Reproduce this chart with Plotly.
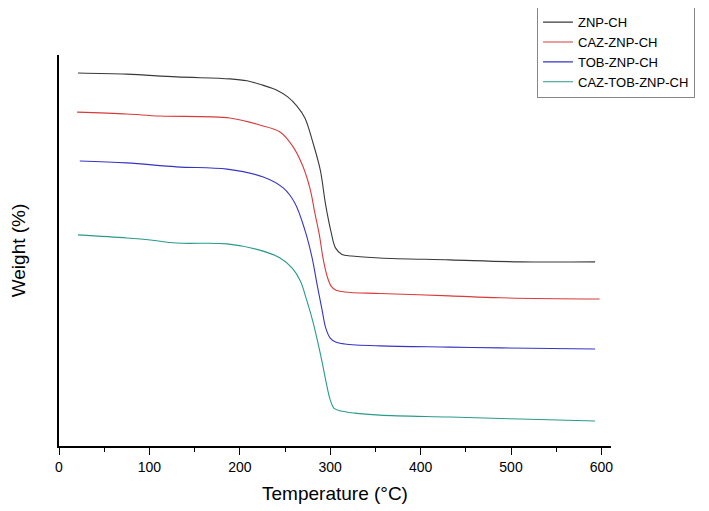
import plotly.graph_objects as go

# Temperature (°C) and weight readings per sample
znp_t = [21, 75, 130, 189, 208, 225, 241, 253, 263, 272, 281, 289, 295, 301, 306, 313, 324, 355, 432, 510, 593]
znp_w = [95.4, 95.1, 94.4, 93.9, 93.4, 92.3, 91.0, 89.3, 87.0, 83.9, 77.5, 70.6, 61.6, 54.7, 50.6, 49.0, 48.6, 48.1, 47.6, 47.1, 47.1]

caz_t = [20, 75, 112, 189, 222, 244.5, 259, 270, 278, 283, 288, 292, 296.5, 301, 306, 316, 355, 432, 488, 598]
caz_w = [85.4, 84.9, 84.4, 83.9, 82.1, 80.3, 76.5, 71.4, 65.5, 59.6, 54.0, 48.1, 43.5, 40.9, 39.9, 39.4, 39.0, 38.4, 37.9, 37.6]

tob_t = [23, 75, 130, 186, 226, 248, 261, 272, 280, 285, 291, 295, 300, 306, 316, 355, 432, 488, 593]
tob_w = [72.9, 72.4, 71.4, 70.8, 68.8, 66.0, 62.1, 55.2, 48.1, 41.9, 34.8, 30.2, 27.6, 26.6, 26.1, 25.6, 25.3, 25.1, 24.8]

caztob_t = [21, 75, 101, 130, 186, 222, 244.5, 258, 267, 274, 281, 286.5, 291, 295.4, 300, 304, 311, 327, 355, 432, 510, 593]
caztob_w = [54.0, 53.2, 52.7, 51.9, 51.7, 50.1, 48.1, 45.5, 42.2, 37.3, 31.7, 26.3, 21.5, 16.4, 11.8, 9.7, 9.0, 8.4, 7.9, 7.4, 6.9, 6.4]

series = [
    ("ZNP-CH", znp_t, znp_w, "#3a3a3a"),
    ("CAZ-ZNP-CH", caz_t, caz_w, "#d93a3a"),
    ("TOB-ZNP-CH", tob_t, tob_w, "#3535c4"),
    ("CAZ-TOB-ZNP-CH", caztob_t, caztob_w, "#2a9a8c"),
]

fig = go.Figure()
for name, t, w, c in series:
    fig.add_trace(go.Scatter(
        x=t, y=w, name=name, mode="lines",
        line=dict(color=c, width=1.1, shape="spline", smoothing=1.0)
    ))

# page body has an 8px margin, so the figure is shrunk to fit the window
fig.update_layout(
    width=701, height=503,
    paper_bgcolor="white", plot_bgcolor="white",
    font=dict(family="Liberation Sans, Arial", color="black", size=14),
    margin=dict(l=51, r=98, t=47, b=65, autoexpand=False),
    legend=dict(
        x=0.866, y=1.125, xanchor="left", yanchor="top",
        bordercolor="#888", borderwidth=1, bgcolor="white",
        font=dict(size=13), tracegroupgap=0,
    ),
    xaxis=dict(
        range=[0, 610.6], showgrid=False, zeroline=False, automargin=False,
        showline=True, linecolor="black", linewidth=1.5,
        ticks="outside", ticklen=7, tickwidth=1.3, tickcolor="black",
        dtick=100, tick0=0,
        minor=dict(ticks="outside", ticklen=4, tickwidth=1.3, tickcolor="black", dtick=50),
        title=dict(text="Temperature (°C)", font=dict(size=19), standoff=13),
    ),
    yaxis=dict(
        range=[0, 100], showgrid=False, zeroline=False, automargin=False,
        showline=True, linecolor="black", linewidth=1.5,
        showticklabels=False, ticks="",
        title=dict(text="Weight (%)", font=dict(size=19), standoff=30),
    ),
)

fig.write_html("out.html")
